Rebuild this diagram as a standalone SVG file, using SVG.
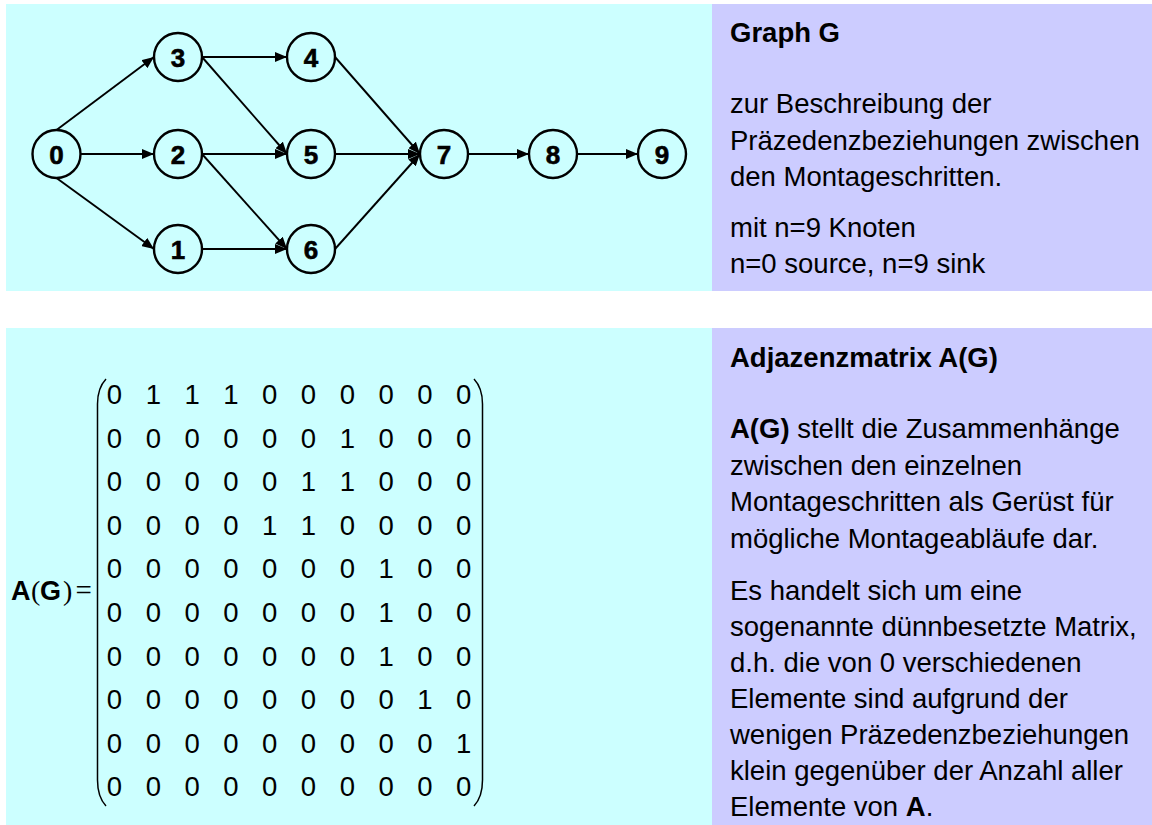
<svg xmlns="http://www.w3.org/2000/svg" width="1152" height="825" viewBox="0 0 1152 825">
<style>
.cy{fill:#CCFFFF}
.lv{fill:#CCCCFF}
.node circle{fill:none;stroke:#000;stroke-width:2.4}
.node text{font-family:"Liberation Sans",Arial,sans-serif;font-weight:bold;font-size:26px;text-anchor:middle;fill:#000;stroke:#000;stroke-width:0.6}
.edge{stroke:#000;stroke-width:1.9;fill:none;marker-end:url(#arr)}
.t{font-family:"Liberation Sans",Arial,sans-serif;font-size:27.5px;fill:#000}
.b{font-weight:bold}
.m{font-family:"Liberation Sans",Arial,sans-serif;font-size:27.5px;text-anchor:middle;fill:#000}
.par{fill:none;stroke:#000;stroke-width:1.5}
</style>
<defs>
<marker id="arr" viewBox="0 0 12 10" refX="12" refY="5" markerWidth="12" markerHeight="10" markerUnits="userSpaceOnUse" orient="auto">
<path d="M0,0 L12,5 L0,10 z" fill="#000"/>
</marker>
</defs>
<rect width="1152" height="825" fill="#FFFFFF"/>
<rect class="cy" x="6" y="4" width="706" height="287"/>
<rect class="lv" x="712" y="4" width="440" height="287"/>
<rect class="cy" x="6" y="328" width="706" height="497"/>
<rect class="lv" x="712" y="328" width="440" height="497"/>

<g id="connectors">
<line class="edge" x1="56.5" y1="130" x2="154" y2="57"/>
<line class="edge" x1="80.5" y1="154" x2="154" y2="154"/>
<line class="edge" x1="56.5" y1="178" x2="154" y2="249"/>
<line class="edge" x1="202" y1="57" x2="287" y2="57"/>
<line class="edge" x1="202" y1="57" x2="287" y2="154"/>
<line class="edge" x1="202" y1="154" x2="287" y2="154"/>
<line class="edge" x1="202" y1="154" x2="287" y2="249"/>
<line class="edge" x1="202" y1="249" x2="287" y2="249"/>
<line class="edge" x1="335" y1="57" x2="420" y2="154"/>
<line class="edge" x1="335" y1="154" x2="420" y2="154"/>
<line class="edge" x1="335" y1="249" x2="420" y2="154"/>
<line class="edge" x1="468" y1="154" x2="529" y2="154"/>
<line class="edge" x1="577" y1="154" x2="638" y2="154"/>
</g>

<g id="n0" class="node"><circle cx="56.5" cy="154" r="24"/><text x="56.5" y="163.5">0</text></g>
<g id="n1" class="node"><circle cx="178" cy="249" r="24"/><text x="178" y="258.5">1</text></g>
<g id="n2" class="node"><circle cx="178" cy="154" r="24"/><text x="178" y="163.5">2</text></g>
<g id="n3" class="node"><circle cx="178" cy="57" r="24"/><text x="178" y="66.5">3</text></g>
<g id="n4" class="node"><circle cx="311" cy="57" r="24"/><text x="311" y="66.5">4</text></g>
<g id="n5" class="node"><circle cx="311" cy="154" r="24"/><text x="311" y="163.5">5</text></g>
<g id="n6" class="node"><circle cx="311" cy="249" r="24"/><text x="311" y="258.5">6</text></g>
<g id="n7" class="node"><circle cx="444" cy="154" r="24"/><text x="444" y="163.5">7</text></g>
<g id="n8" class="node"><circle cx="553" cy="154" r="24"/><text x="553" y="163.5">8</text></g>
<g id="n9" class="node"><circle cx="662" cy="154" r="24"/><text x="662" y="163.5">9</text></g>

<g id="text-graph">
<text class="t b" x="730" y="41.5">Graph G</text>
<text class="t" x="730" y="113">zur Beschreibung der</text>
<text class="t" x="730" y="149.5">Präzedenzbeziehungen zwischen</text>
<text class="t" x="730" y="186">den Montageschritten.</text>
<text class="t" x="730" y="237">mit n=9 Knoten</text>
<text class="t" x="730" y="273">n=0 source, n=9 sink</text>
</g>

<g id="matrix">
<text x="11" y="600" style="font-family:'Liberation Sans',Arial,sans-serif;font-weight:bold;font-size:27px">A</text>
<text x="31" y="600" style="font-family:'Liberation Serif','Times New Roman',serif;font-size:28px">(</text>
<text x="40" y="600" style="font-family:'Liberation Sans',Arial,sans-serif;font-weight:bold;font-size:27px">G</text>
<text x="63" y="600" style="font-family:'Liberation Serif','Times New Roman',serif;font-size:28px">)</text>
<text x="75.5" y="600" style="font-family:'Liberation Serif','Times New Roman',serif;font-size:29px">=</text>
<path class="par" d="M106,379 Q97.5,388 97.5,404 L97.5,780 Q97.5,797 106,806"/>
<path class="par" d="M474,379 Q482.5,388 482.5,404 L482.5,780 Q482.5,797 474,806"/>
<text class="m" x="114.5 153.3 192.1 230.9 269.7 308.5 347.3 386.1 424.9 463.7" y="404">0111000000</text>
<text class="m" x="114.5 153.3 192.1 230.9 269.7 308.5 347.3 386.1 424.9 463.7" y="447.6">0000001000</text>
<text class="m" x="114.5 153.3 192.1 230.9 269.7 308.5 347.3 386.1 424.9 463.7" y="491.2">0000011000</text>
<text class="m" x="114.5 153.3 192.1 230.9 269.7 308.5 347.3 386.1 424.9 463.7" y="534.8">0000110000</text>
<text class="m" x="114.5 153.3 192.1 230.9 269.7 308.5 347.3 386.1 424.9 463.7" y="578.4">0000000100</text>
<text class="m" x="114.5 153.3 192.1 230.9 269.7 308.5 347.3 386.1 424.9 463.7" y="622">0000000100</text>
<text class="m" x="114.5 153.3 192.1 230.9 269.7 308.5 347.3 386.1 424.9 463.7" y="665.6">0000000100</text>
<text class="m" x="114.5 153.3 192.1 230.9 269.7 308.5 347.3 386.1 424.9 463.7" y="709.2">0000000010</text>
<text class="m" x="114.5 153.3 192.1 230.9 269.7 308.5 347.3 386.1 424.9 463.7" y="752.8">0000000001</text>
<text class="m" x="114.5 153.3 192.1 230.9 269.7 308.5 347.3 386.1 424.9 463.7" y="796.4">0000000000</text>
</g>

<g id="text-matrix">
<text class="t b" x="730" y="367">Adjazenzmatrix A(G)</text>
<text class="t" x="730" y="438"><tspan class="b">A(G)</tspan> stellt die Zusammenhänge</text>
<text class="t" x="730" y="474.5">zwischen den einzelnen</text>
<text class="t" x="730" y="511">Montageschritten als Gerüst für</text>
<text class="t" x="730" y="547.5">mögliche Montageabläufe dar.</text>
<text class="t" x="730" y="600">Es handelt sich um eine</text>
<text class="t" x="730" y="636">sogenannte dünnbesetzte Matrix,</text>
<text class="t" x="730" y="672">d.h. die von 0 verschiedenen</text>
<text class="t" x="730" y="708">Elemente sind aufgrund der</text>
<text class="t" x="730" y="744">wenigen Präzedenzbeziehungen</text>
<text class="t" x="730" y="780">klein gegenüber der Anzahl aller</text>
<text class="t" x="730" y="816">Elemente von <tspan class="b">A</tspan>.</text>
</g>
</svg>
